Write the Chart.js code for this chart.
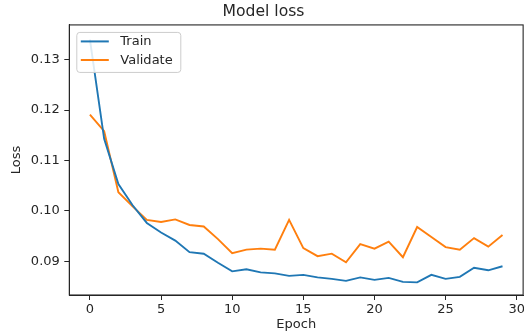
<!DOCTYPE html>
<html>
<head>
<meta charset="utf-8">
<script src="https://cdn.jsdelivr.net/npm/chart.js@4/dist/chart.umd.min.js"></script>
<style>
html,body{margin:0;padding:0;overflow:hidden;background:#fff;width:524px;height:335px;}
canvas{display:block;}
</style>
</head>
<body>
<canvas id="c" width="527" height="335"></canvas>
<script>
const epochs = [0,1,2,3,4,5,6,7,8,9,10,11,12,13,14,15,16,17,18,19,20,21,22,23,24,25,26,27,28,29];
const trainLoss = [0.1340,0.1143,0.1053,0.1011,0.0976,0.0957,0.0941,0.0918,0.0915,0.0897,0.0880,0.0884,0.0878,0.0876,0.0871,0.0873,0.0868,0.0865,0.0861,0.0868,0.0863,0.0867,0.0859,0.0858,0.0873,0.0865,0.0869,0.0887,0.0882,0.0890];
const valLoss = [0.1191,0.1158,0.1037,0.1009,0.0982,0.0978,0.0983,0.0972,0.0969,0.0944,0.0916,0.0923,0.0925,0.0923,0.0982,0.0926,0.0910,0.0915,0.0898,0.0934,0.0925,0.0939,0.0908,0.0968,0.0948,0.0928,0.0923,0.0946,0.0929,0.0952];
const xTicks = [0,5,10,15,20,25,30];
const yTicks = [0.09,0.10,0.11,0.12,0.13];
const seriesNames = ['Train','Validate'];
const seriesColors = ['#1f77b4','#ff7f0e'];

const FONT = "'DejaVu Sans', sans-serif";
const INK = '#262626';

const framePlugin = {
  id: 'frame',
  afterDatasetsDraw(chart) {
    const {ctx, chartArea: a} = chart;
    ctx.save();
    ctx.strokeStyle = INK;
    ctx.lineWidth = 1.1;
    ctx.strokeRect(a.left, a.top, a.right - a.left, a.bottom - a.top);
    ctx.restore();
  },
  afterDraw(chart) {
    const {ctx, chartArea: a} = chart;
    const x0 = a.left + 7.5, y0 = a.top + 7.5, w = 104, h = 40;
    ctx.save();
    ctx.fillStyle = 'rgba(255,255,255,0.85)';
    ctx.strokeStyle = '#cccccc';
    ctx.lineWidth = 1;
    const r = 3;
    ctx.beginPath();
    ctx.moveTo(x0 + r, y0);
    ctx.lineTo(x0 + w - r, y0);
    ctx.quadraticCurveTo(x0 + w, y0, x0 + w, y0 + r);
    ctx.lineTo(x0 + w, y0 + h - r);
    ctx.quadraticCurveTo(x0 + w, y0 + h, x0 + w - r, y0 + h);
    ctx.lineTo(x0 + r, y0 + h);
    ctx.quadraticCurveTo(x0, y0 + h, x0, y0 + h - r);
    ctx.lineTo(x0, y0 + r);
    ctx.quadraticCurveTo(x0, y0, x0 + r, y0);
    ctx.closePath();
    ctx.fill();
    ctx.stroke();
    ctx.font = '13px ' + FONT;
    ctx.textBaseline = 'middle';
    ctx.textAlign = 'left';
    chart.data.datasets.forEach((ds, i) => {
      const yy = y0 + 9 + i * 18.6;
      ctx.strokeStyle = ds.borderColor;
      ctx.lineWidth = 2;
      ctx.beginPath();
      ctx.moveTo(x0 + 4, yy);
      ctx.lineTo(x0 + 32, yy);
      ctx.stroke();
      ctx.fillStyle = INK;
      ctx.fillText(ds.label, x0 + 43.5, yy + 0.5);
    });
    ctx.restore();
  }
};

new Chart(document.getElementById('c'), {
  type: 'line',
  data: {
    datasets: [
      {label: seriesNames[0], data: epochs.map((e, i) => ({x: e, y: trainLoss[i]})), borderColor: seriesColors[0], backgroundColor: seriesColors[0], borderWidth: 1.9, pointRadius: 0, tension: 0, fill: false},
      {label: seriesNames[1], data: epochs.map((e, i) => ({x: e, y: valLoss[i]})), borderColor: seriesColors[1], backgroundColor: seriesColors[1], borderWidth: 1.9, pointRadius: 0, tension: 0, fill: false}
    ]
  },
  options: {
    responsive: false,
    animation: false,
    devicePixelRatio: 1,
    layout: {padding: {left: 0, right: 0, top: 0, bottom: 0}},
    plugins: {
      legend: {display: false},
      tooltip: {enabled: false},
      title: {display: true, text: 'Model loss', color: INK, font: {family: FONT, size: 15.6, weight: 'normal', lineHeight: 1.2}, padding: {top: 2.6, bottom: 3.6}}
    },
    scales: {
      x: {
        type: 'linear',
        min: -1.45,
        max: 30.45,
        afterBuildTicks(s) { s.ticks = xTicks.map(v => ({value: v})); },
        afterFit(s) { s.height = 40; },
        grid: {display: true, drawOnChartArea: false, drawTicks: true, tickLength: 5, color: INK, lineWidth: 1},
        border: {display: true, color: INK, width: 1},
        ticks: {color: INK, font: {family: FONT, size: 13}, padding: 2, maxRotation: 0, autoSkip: false, callback: v => String(v)},
        title: {display: true, text: 'Epoch', color: INK, font: {family: FONT, size: 13, lineHeight: 1.2}, padding: {top: 0, bottom: 2.2}}
      },
      y: {
        type: 'linear',
        min: 0.0833,
        max: 0.1369,
        afterBuildTicks(s) { s.ticks = yTicks.map(v => ({value: v})); },
        afterFit(s) { s.width = 69.3; },
        grid: {display: true, drawOnChartArea: false, drawTicks: true, tickLength: 5, color: INK, lineWidth: 1},
        border: {display: true, color: INK, width: 1},
        ticks: {color: INK, font: {family: FONT, size: 13}, padding: 4.5, autoSkip: false, callback: v => v.toFixed(2)},
        title: {display: true, text: 'Loss', color: INK, font: {family: FONT, size: 13, lineHeight: 1.2}, padding: {top: 9.2, bottom: 0}}
      }
    }
  },
  plugins: [framePlugin]
});
</script>
</body>
</html>
